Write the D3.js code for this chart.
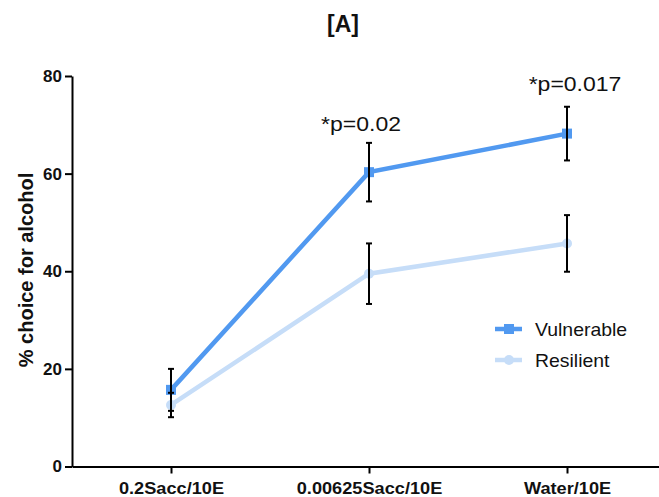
<!DOCTYPE html>
<html>
<head>
<meta charset="utf-8">
<script src="https://cdn.jsdelivr.net/npm/d3@7"></script>
<style>
  body { margin: 0; background: #fff; }
  svg { font-family: "Liberation Sans", Arial, sans-serif; }
  .axis path, .axis line { stroke: #000; stroke-width: 2; }
  .axis text { font-size: 17px; font-weight: bold; fill: #111; }
</style>
</head>
<body>
<svg width="659" height="497"></svg>
<script>
var categories = ["0.2Sacc/10E", "0.00625Sacc/10E", "Water/10E"];
var vulnerable = [15.7, 60.3, 68.2];
var vulnerableErr = [4.3, 6.0, 5.5];
var resilient = [12.6, 39.5, 45.7];
var resilientErr = [2.5, 6.2, 5.8];
var yTicks = [0, 20, 40, 60, 80];
var pLabels = [null, "*p=0.02", "*p=0.017"];

var svg = d3.select("svg");
var vulnColor = "#5199f0", resColor = "#c6ddf8";

var x = d3.scalePoint().domain(categories).range([72, 666]).padding(0.5);
var y = d3.scaleLinear().domain([0, 80]).range([466.5, 76]);

// stretched text, the original font is a bit wider than Liberation Sans
function wideText(px, py, sx, txt) {
    return svg.append("text")
        .attr("transform", "translate(" + px + "," + py + ") scale(" + sx + ",1)")
        .style("fill", "#111")
        .text(txt);
}

// axes
svg.append("g")
    .attr("class", "axis")
    .attr("transform", "translate(0," + y(0) + ")")
    .call(d3.axisBottom(x).tickSize(7).tickPadding(8).tickSizeOuter(0))
    .selectAll("text").attr("transform", "scale(1.07,1)");

svg.append("g")
    .attr("class", "axis")
    .attr("transform", "translate(72,0)")
    .call(d3.axisLeft(y).tickValues(yTicks).tickSize(7).tickPadding(3).tickSizeOuter(0));

// title + y label
wideText(343, 32, 1, "[A]")
    .attr("text-anchor", "middle")
    .style("font-size", "23px").style("font-weight", "bold");

svg.append("text")
    .attr("transform", "translate(33,270) rotate(-90)")
    .attr("text-anchor", "middle")
    .style("font-size", "20px").style("font-weight", "bold").style("fill", "#111")
    .text("% choice for alcohol");

var line = d3.line().x((d, i) => x(categories[i])).y(d => y(d));

// resilient series
svg.append("path").datum(resilient)
    .attr("d", line).attr("fill", "none")
    .attr("stroke", resColor).attr("stroke-width", 4.5);
svg.selectAll(".resdot").data(resilient).enter().append("circle")
    .attr("cx", (d, i) => x(categories[i])).attr("cy", d => y(d))
    .attr("r", 5).attr("fill", resColor);

// vulnerable series
svg.append("path").datum(vulnerable)
    .attr("d", line).attr("fill", "none")
    .attr("stroke", vulnColor).attr("stroke-width", 4.5);
svg.selectAll(".vulndot").data(vulnerable).enter().append("rect")
    .attr("x", (d, i) => x(categories[i]) - 5).attr("y", d => y(d) - 5)
    .attr("width", 10).attr("height", 10).attr("fill", vulnColor);

// error bars
function errBars(vals, errs) {
    vals.forEach(function(v, i) {
        var cx = x(categories[i]);
        var g = svg.append("g").attr("stroke", "#000").attr("stroke-width", 2);
        g.append("line").attr("x1", cx).attr("x2", cx).attr("y1", y(v + errs[i])).attr("y2", y(v - errs[i]));
        g.append("line").attr("x1", cx - 3).attr("x2", cx + 3).attr("y1", y(v + errs[i])).attr("y2", y(v + errs[i]));
        g.append("line").attr("x1", cx - 3).attr("x2", cx + 3).attr("y1", y(v - errs[i])).attr("y2", y(v - errs[i]));
    });
}
errBars(resilient, resilientErr);
errBars(vulnerable, vulnerableErr);

// p-value annotations, nudged like in the original
var pShift = [[0, 0], [-8, -12], [8, -16]];
pLabels.forEach(function(p, i) {
    if (!p) return;
    wideText(x(categories[i]) + pShift[i][0], y(vulnerable[i] + vulnerableErr[i]) + pShift[i][1], 1.15, p)
        .attr("text-anchor", "middle")
        .style("font-size", "20px");
});

// legend
var legend = [["Vulnerable", vulnColor, "rect"], ["Resilient", resColor, "circle"]];
legend.forEach(function(l, i) {
    var ly = 329 + i * 31;
    svg.append("line").attr("x1", 495).attr("x2", 522).attr("y1", ly).attr("y2", ly)
        .attr("stroke", l[1]).attr("stroke-width", 4.5);
    if (l[2] == "rect") {
        svg.append("rect").attr("x", 504).attr("y", ly - 5).attr("width", 10).attr("height", 10).attr("fill", l[1]);
    } else {
        svg.append("circle").attr("cx", 509).attr("cy", ly).attr("r", 5).attr("fill", l[1]);
    }
    wideText(535, ly + 7, 1.08, l[0]).style("font-size", "18px");
});
</script>
</body>
</html>
